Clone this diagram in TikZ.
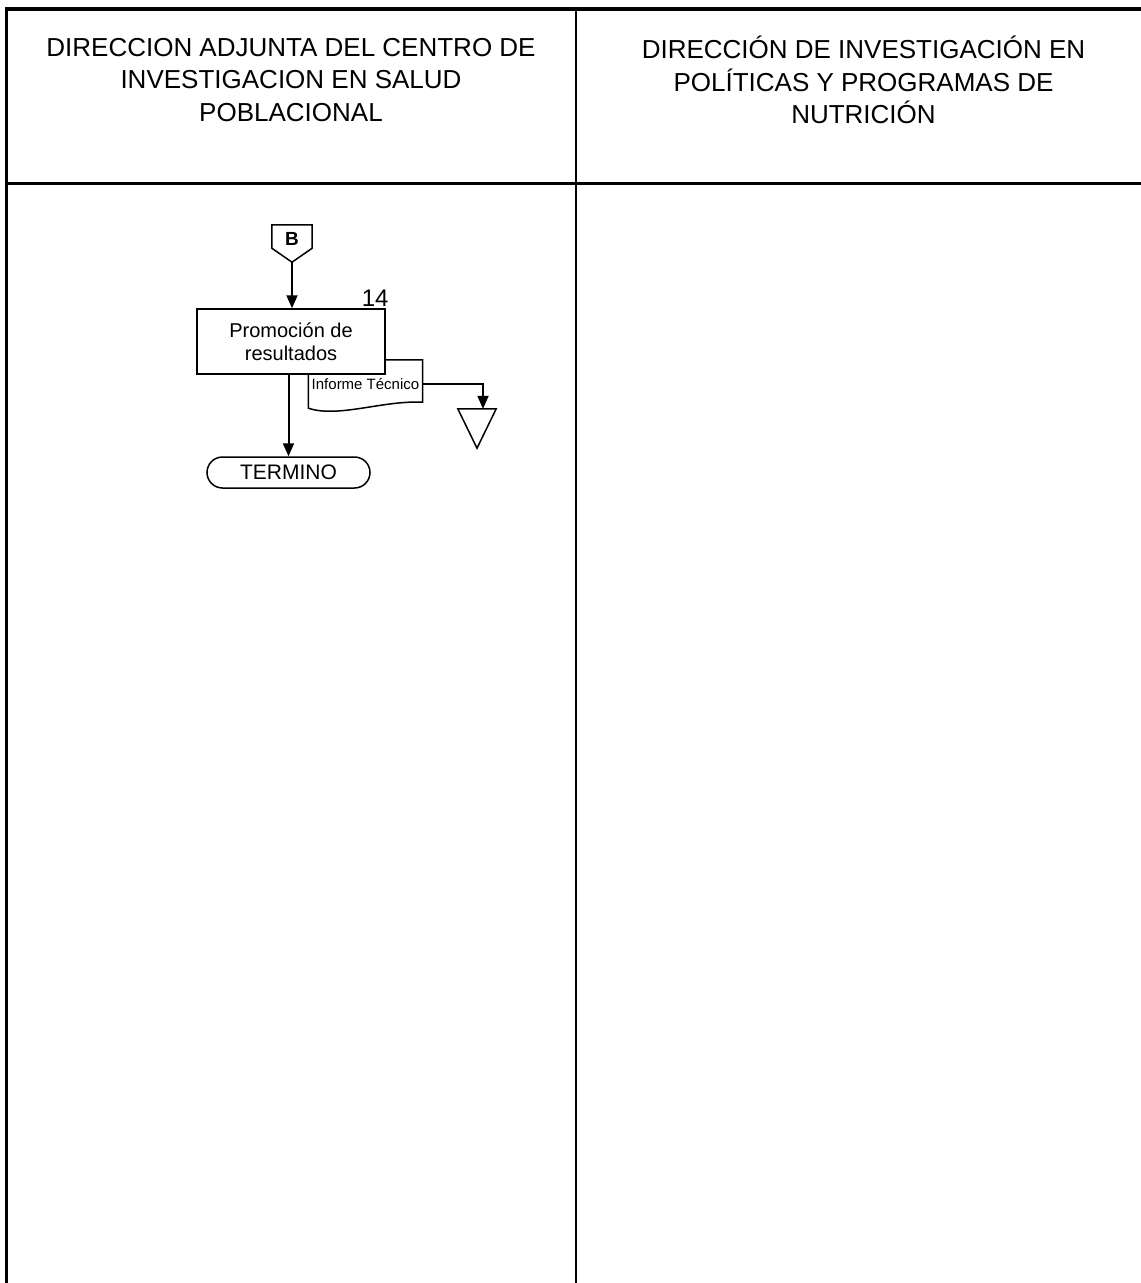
\documentclass[tikz,border=0pt]{standalone}
\usepackage{fontspec}
\setmainfont{Liberation Sans}
\usetikzlibrary{arrows.meta}

\begin{document}
\begin{tikzpicture}[x=1pt, y=-1pt,
                    caja/.style={draw, line width=1.5pt, inner sep=0pt},
                    flujo/.style={line width=2pt, -{Triangle[length=13pt,width=11pt]}},
                    encabezado/.style={align=center, font=\fontsize{26}{32.5}\selectfont}]
  \useasboundingbox (0,0) rectangle (1141,1283);
  % marco de la tabla
  \draw[line width=4pt] (5,8.5) -- (1141,8.5);
  \draw[line width=3pt] (6.5,7) -- (6.5,1283);
  \draw[line width=2.5pt] (6.5,183.5) -- (1141,183.5);
  \draw[line width=1.5pt] (576,8) -- (576,1283);
  % encabezados
  \node[encabezado] (col1) at (291,80)
        {DIRECCION ADJUNTA DEL CENTRO DE\\INVESTIGACION EN SALUD\\POBLACIONAL};
  \node[encabezado] (col2) at (863.5,80)
        {DIRECCIÓN DE INVESTIGACIÓN EN\\POLÍTICAS Y PROGRAMAS DE\\NUTRICIÓN};
  % conector B
  \node[minimum width=40pt, minimum height=28pt, inner sep=0pt,
        font=\fontsize{19}{19}\selectfont\bfseries] (conB) at (292,239) {B};
  \coordinate (puntaB) at ([yshift=-9pt]conB.south);
  \draw[line width=1.5pt] (conB.north west) -- (conB.north east)
        -- ([yshift=5pt]conB.south east) -- (puntaB)
        -- ([yshift=5pt]conB.south west) -- cycle;
  % documento
  \node[minimum width=114pt, minimum height=48pt, inner sep=0pt,
        font=\fontsize{15}{15}\selectfont] (doc) at (365.5,384) {Informe Técnico};
  \draw[line width=1.5pt] (doc.north west) -- (doc.north east)
        -- ([yshift=6pt]doc.south east)
        .. controls ([xshift=-40pt,yshift=8pt]doc.south east)
        and ([xshift=30pt,yshift=-10pt]doc.south west) .. (doc.south west) -- cycle;
  % actividad 14
  \node[caja, fill=white, minimum width=188pt, minimum height=65pt, align=center,
        font=\fontsize{20}{23}\selectfont] (proc) at (291,341.5) {Promoción de\\resultados};
  \node[anchor=south east, inner sep=0pt, font=\fontsize{24}{24}\selectfont]
        (num) at ([xshift=3pt,yshift=2pt]proc.north east) {14};
  % archivo
  \node[minimum width=38pt, minimum height=39pt, inner sep=0pt] (almacen) at (477,428.5) {};
  \draw[line width=1.5pt] (almacen.north west) -- (almacen.north east)
        -- (almacen.south) -- cycle;
  % termino
  \node[caja, rounded corners=15.5pt, minimum width=163pt, minimum height=31pt,
        font=\fontsize{21}{21}\selectfont] (term) at (288.5,472.5) {TERMINO};
  % flechas
  \draw[flujo] (puntaB) -- (puntaB |- proc.north);
  \draw[flujo] (proc.south -| term.north) -- (term.north);
  \draw[flujo] (doc.east) -| ([xshift=6pt]almacen.north);
\end{tikzpicture}
\end{document}
